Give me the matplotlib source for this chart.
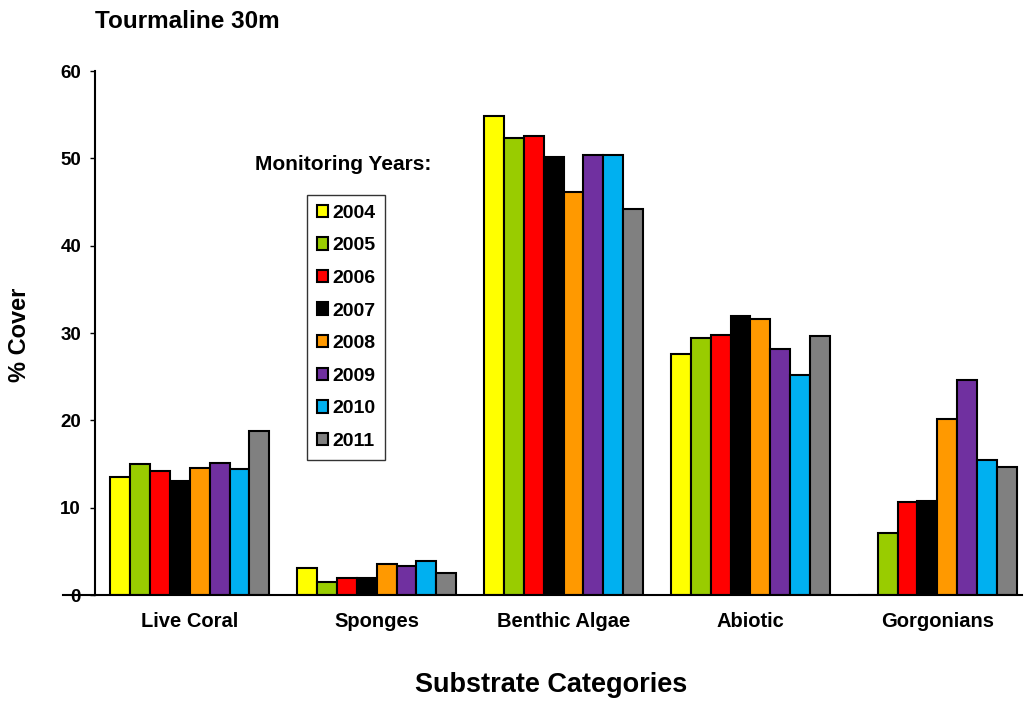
import matplotlib
matplotlib.use("Agg")
import matplotlib.pyplot as plt
import numpy as np
from matplotlib.patches import Patch
from matplotlib.lines import Line2D

plt.rcParams['font.family'] = ['Liberation Sans', 'DejaVu Sans']
plt.rcParams['font.weight'] = 'bold'

categories = ["Live Coral", "Sponges", "Benthic Algae", "Abiotic", "Gorgonians"]
years = ["2004", "2005", "2006", "2007", "2008", "2009", "2010", "2011"]
colors = ["#FFFF00", "#99CC00", "#FF0000", "#000000",
          "#FF9900", "#7030A0", "#00B0F0", "#808080"]

cover_2004 = [13.5, 3.05, 54.9, 27.6, 0.0]
cover_2005 = [15.0, 1.45, 52.3, 29.4, 7.05]
cover_2006 = [14.2, 2.0, 52.6, 29.8, 10.6]
cover_2007 = [13.0, 1.9, 50.2, 32.0, 10.8]
cover_2008 = [14.5, 3.55, 46.2, 31.6, 20.2]
cover_2009 = [15.1, 3.3, 50.4, 28.2, 24.6]
cover_2010 = [14.4, 3.9, 50.4, 25.2, 15.5]
cover_2011 = [18.8, 2.55, 44.2, 29.6, 14.65]
series = [cover_2004, cover_2005, cover_2006, cover_2007,
          cover_2008, cover_2009, cover_2010, cover_2011]

W, H = 1026, 702
fig = plt.figure(figsize=(W / 100, H / 100), dpi=100)
ax_left, ax_right, ax_top, ax_bottom = 95, 1022, 71, 595
ax = fig.add_axes([ax_left / W, 1 - ax_bottom / H,
                   (ax_right - ax_left) / W, (ax_bottom - ax_top) / H])

x = np.arange(len(categories))
width = 0.1065
n = len(series)
for i, (vals, col) in enumerate(zip(series, colors)):
    offs = (i - (n - 1) / 2) * width
    ax.bar(x + offs, vals, width, color=col, edgecolor="black",
           linewidth=1.5, zorder=2)

# category spacing ~187 px, first group centred 95 px right of the y axis
ax.set_xlim(-0.507, 4.453)
ax.set_ylim(0, 60)
ax.set_yticks(range(0, 61, 10))
ax.set_xticks(x)
ax.set_xticklabels(categories, fontsize=14.5, fontweight="bold")
ax.tick_params(axis="x", length=0, pad=12)
ax.tick_params(axis="y", direction="out", length=3.5, width=1,
               labelsize=13.5, pad=6.5)
for lab in ax.get_yticklabels():
    lab.set_fontweight("bold")

ax.spines["top"].set_visible(False)
ax.spines["right"].set_visible(False)
ax.spines["left"].set_linewidth(1.5)
ax.spines["bottom"].set_linewidth(1.5)
# short stub of the baseline to the left of the y axis
ax.add_line(Line2D([-0.035, 0], [0, 0], transform=ax.transAxes,
                   color="black", linewidth=1.5, clip_on=False))

fig.text(20 / W, 1 - 335 / H, "% Cover", fontsize=17, fontweight="bold",
         rotation=90, ha="center", va="center")
fig.text(551 / W, 1 - 685 / H, "Substrate Categories", fontsize=19.5,
         fontweight="bold", ha="center", va="center")

fig.text(95 / W, 1 - 22 / H, "Tourmaline 30m", fontsize=17.5,
         fontweight="bold", ha="left", va="center")
fig.text(255 / W, 1 - 165 / H, "Monitoring Years:", fontsize=15,
         fontweight="bold", ha="left", va="center")

handles = [Patch(facecolor=c, edgecolor="black", linewidth=1.5) for c in colors]
leg = fig.legend(handles, years, loc="upper left",
                 bbox_to_anchor=(307 / W, 1 - 195 / H), frameon=True,
                 fancybox=False, edgecolor="black", fontsize=14,
                 handlelength=0.6, handleheight=0.6, handletextpad=0.2,
                 labelspacing=0.8, borderpad=0.5, borderaxespad=0)
leg.get_frame().set_linewidth(1.0)
for t in leg.get_texts():
    t.set_fontweight("bold")

fig.savefig("out.png", dpi=100)
